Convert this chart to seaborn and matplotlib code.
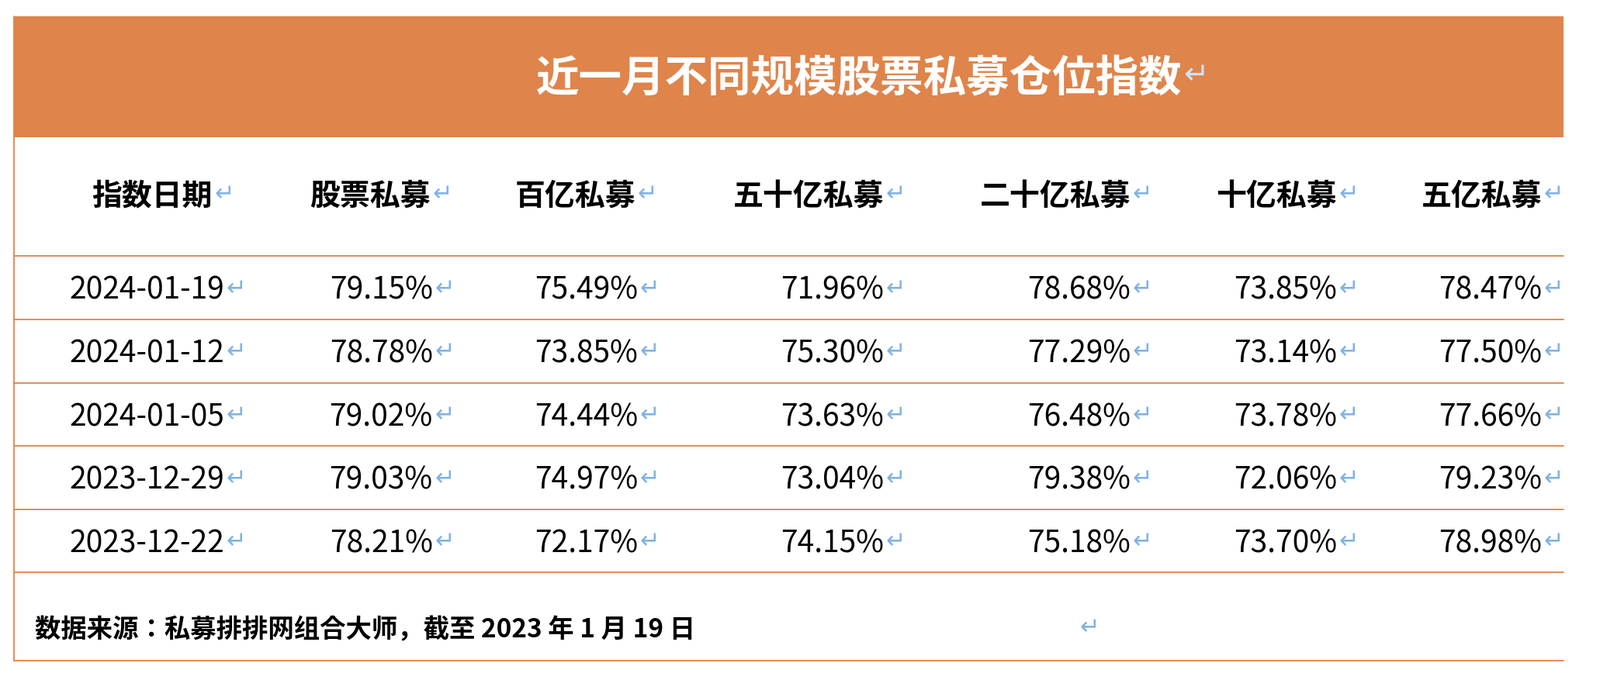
import matplotlib.pyplot as plt
import seaborn as sns

sns.set_theme(style="white")
cjk = ["Noto Sans CJK SC", "Noto Sans CJK JP", "Noto Sans CJK TC", "DejaVu Sans"]
plt.rcParams["font.family"] = "sans-serif"
plt.rcParams["font.sans-serif"] = cjk

# -----------------------------
# Data
# -----------------------------
title = "近一月不同规模股票私募仓位指数"
headers = ["指数日期", "股票私募", "百亿私募", "五十亿私募", "二十亿私募", "十亿私募", "五亿私募"]
dates = ["2024-01-19", "2024-01-12", "2024-01-05", "2023-12-29", "2023-12-22"]
stock_pe = ["79.15%", "78.78%", "79.02%", "79.03%", "78.21%"]
pe_10b = ["75.49%", "73.85%", "74.44%", "74.97%", "72.17%"]
pe_5b = ["71.96%", "75.30%", "73.63%", "73.04%", "74.15%"]
pe_2b = ["78.68%", "77.29%", "76.48%", "79.38%", "75.18%"]
pe_1b = ["73.85%", "73.14%", "73.78%", "72.06%", "73.70%"]
pe_500m = ["78.47%", "77.50%", "77.66%", "79.23%", "78.98%"]
footer = "数据来源：私募排排网组合大师，截至 2023 年 1 月 19 日"

columns = [dates, stock_pe, pe_10b, pe_5b, pe_2b, pe_1b, pe_500m]

orange = "#DF844A"
arrow_c = "#7FB2E5"

fig = plt.figure(figsize=(20.62, 8.86), dpi=100)
ax = fig.add_axes([0, 0, 1, 1])
ax.set_xlim(0, 1568)
ax.set_ylim(676, 0)
ax.axis("off")

# title band
ax.fill_between([14, 1532], 16, 135, color=orange, lw=0)
ax.text(1158, 78, title, color="white", fontsize=40, fontweight="bold",
        ha="right", va="center", family=cjk)
ax.text(1160, 74, "↵", color="#CFE0F5", fontsize=28, ha="left", va="center",
        family="DejaVu Sans")

# borders
ax.plot([14, 14], [16, 650], color=orange, lw=1.3)
for y in [252, 314, 377, 439, 501, 563, 650]:
    ax.plot([14, 1532], [y, y], color=orange, lw=1.3)

# column right edges
col_right = [220, 424, 625, 866, 1108, 1310, 1511]
hdr_right = [208, 422, 623, 866, 1108, 1310, 1511]
row_y = [286, 348, 411, 473, 535]

def mark(x, y, size=22):
    ax.text(x + 2, y - 2, "↵", color=arrow_c, fontsize=size, ha="left",
            va="center", family="DejaVu Sans")

for h, xr in zip(headers, hdr_right):
    ax.text(xr, 193, h, fontsize=28, fontweight="bold", ha="right",
            va="center", color="black", family=cjk)
    mark(xr, 193)

for i, (col, xr) in enumerate(zip(columns, col_right)):
    for v, y in zip(col, row_y):
        ax.text(xr, y, v, fontsize=28, ha="right", va="center",
                color="black", family=cjk)
        mark(xr, y)

ax.text(34, 620, footer, fontsize=24, fontweight="bold", ha="left",
        va="center", color="black", family=cjk)
mark(1056, 620)

fig.savefig("out.png", dpi=100, facecolor="white")
